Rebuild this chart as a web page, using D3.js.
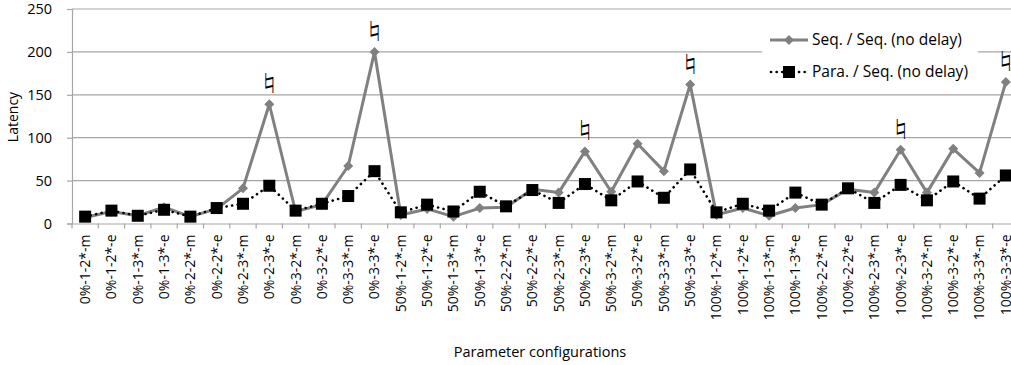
<!DOCTYPE html>
<html><head><meta charset="utf-8">
<script src="https://cdn.jsdelivr.net/npm/d3@7"></script>
<style>body{margin:0;background:#fff}svg{display:block}text{font-family:"Open Sans","Noto Sans",sans-serif}</style>
</head><body><svg id="c" width="1011" height="365"></svg>
<script>
const categories = ["0%-1-2*-m","0%-1-2*-e","0%-1-3*-m","0%-1-3*-e","0%-2-2*-m","0%-2-2*-e","0%-2-3*-m","0%-2-3*-e","0%-3-2*-m","0%-3-2*-e","0%-3-3*-m","0%-3-3*-e",
"50%-1-2*-m","50%-1-2*-e","50%-1-3*-m","50%-1-3*-e","50%-2-2*-m","50%-2-2*-e","50%-2-3*-m","50%-2-3*-e","50%-3-2*-m","50%-3-2*-e","50%-3-3*-m","50%-3-3*-e",
"100%-1-2*-m","100%-1-2*-e","100%-1-3*-m","100%-1-3*-e","100%-2-2*-m","100%-2-2*-e","100%-2-3*-m","100%-2-3*-e","100%-3-2*-m","100%-3-2*-e","100%-3-3*-m","100%-3-3*-e"];
const seqSeq = [7,14,9,19,8,17,41,139,14,22,67,200,10,17,8,18,19,40,36,84,37,93,61,162,10,18,9,18,22,40,36,86,36,87,59,165];
const paraSeq = [8,15,9,16,8,18,23,44,15,23,32,61,13,22,14,37,20,39,24,46,27,49,30,63,13,23,15,36,22,41,24,45,27,49,29,56];
const markedCats = ["0%-2-3*-e","0%-3-3*-e","50%-2-3*-e","50%-3-3*-e","100%-2-3*-e","100%-3-3*-e"];
const yTicks = [0,50,100,150,200,250];
const seriesNames = ["Seq. / Seq. (no delay)","Para. / Seq. (no delay)"];

const svg = d3.select("#c");
const mL = 72, mR = 1019, mT = 9, mB = 223.5;
const x = d3.scaleBand().domain(categories).range([mL, mR]);
const y = d3.scaleLinear().domain([0,250]).range([mB, mT]);
const cx = d => x(d) + x.bandwidth()/2;

// gridlines
svg.append("g").selectAll("line").data(yTicks.filter(d=>d>0)).join("line")
  .attr("x1", mL).attr("x2", 1011).attr("y1", d=>y(d)).attr("y2", d=>y(d))
  .attr("stroke", "#a6a6a6").attr("stroke-width", 1.2);

// y axis
const ya = svg.append("g").attr("transform", `translate(${mL},0)`)
  .call(d3.axisLeft(y).tickValues(yTicks).tickSize(5).tickPadding(15));
ya.select(".domain").attr("stroke", "#a6a6a6").attr("stroke-width",1.2);
ya.selectAll(".tick line").attr("stroke", "#a6a6a6").attr("stroke-width",1.2);
ya.selectAll("text").attr("font-size", 14.5).attr("fill", "#000").attr("font-family","Open Sans");

// x axis
const xa = svg.append("g").attr("transform", `translate(0,${mB})`)
  .call(d3.axisBottom(x).tickSize(0).tickPadding(0));
xa.select(".domain").attr("stroke", "#a6a6a6").attr("stroke-width",1.2);
xa.selectAll(".tick text").attr("font-size", 14).attr("fill","#000").attr("font-family","Open Sans")
  .attr("text-anchor","end")
  .attr("transform","translate(0,11) rotate(-90)").attr("x",0).attr("y",0).attr("dy","0.35em");
// boundary ticks
svg.append("g").selectAll("line").data(d3.range(categories.length+1)).join("line")
  .attr("x1", i => mL + i*x.step()).attr("x2", i => mL + i*x.step())
  .attr("y1", mB).attr("y2", mB+5).attr("stroke","#a6a6a6").attr("stroke-width",1.2);

// lines
const line = v => d3.line().x((d,i)=>cx(categories[i])).y(d=>y(d))(v);
svg.append("path").attr("d", line(seqSeq)).attr("fill","none").attr("stroke","#808080").attr("stroke-width",3).attr("stroke-linejoin","round");
svg.append("path").attr("d", line(paraSeq)).attr("fill","none").attr("stroke","#000").attr("stroke-width",2.6)
  .attr("stroke-dasharray","0.1 5.5").attr("stroke-linecap","round");

svg.append("g").selectAll("path").data(seqSeq).join("path")
  .attr("d", d3.symbol().type(d3.symbolSquare).size(50))
  .attr("transform",(d,i)=>`translate(${cx(categories[i])},${y(d)}) rotate(45)`).attr("fill","#808080");
svg.append("g").selectAll("rect").data(paraSeq).join("rect")
  .attr("x",(d,i)=>cx(categories[i])-6).attr("y",d=>y(d)-6).attr("width",12).attr("height",12).attr("fill","#000");

// natural sign annotations
svg.append("g").selectAll("text").data(markedCats).join("text")
  .attr("x", d=>cx(d)).attr("y", d=>y(seqSeq[categories.indexOf(d)])-22)
  .attr("dominant-baseline","central")
  .attr("text-anchor","middle").attr("font-size",23).attr("fill","#000")
  .style("font-family","'Noto Sans CJK JP','DejaVu Sans'").text("\u266E");

// legend
const lg = svg.append("g");
lg.append("rect").attr("x",762).attr("y",24).attr("width",216).attr("height",64).attr("fill","#fff");
lg.append("line").attr("x1",770).attr("x2",808).attr("y1",40).attr("y2",40).attr("stroke","#808080").attr("stroke-width",3);
lg.append("path").attr("d", d3.symbol().type(d3.symbolSquare).size(50)).attr("transform","translate(789,40) rotate(45)").attr("fill","#808080");
lg.append("line").attr("x1",771).attr("x2",808).attr("y1",72).attr("y2",72).attr("stroke","#000").attr("stroke-width",2.6)
  .attr("stroke-dasharray","0.1 5.5").attr("stroke-linecap","round");
lg.append("rect").attr("x",783).attr("y",66).attr("width",12).attr("height",12).attr("fill","#000");
lg.selectAll("text").data(seriesNames).join("text")
  .attr("x",812).attr("y",(d,i)=>40+i*32).attr("dy","0.35em").attr("font-size",15.5).text(d=>d);

// axis titles
svg.append("text").attr("transform","translate(18,117) rotate(-90)").attr("text-anchor","middle").attr("font-size",14).text("Latency");
svg.append("text").attr("x",540).attr("y",357).attr("text-anchor","middle").attr("font-size",14.5).text("Parameter configurations");
</script></body></html>
